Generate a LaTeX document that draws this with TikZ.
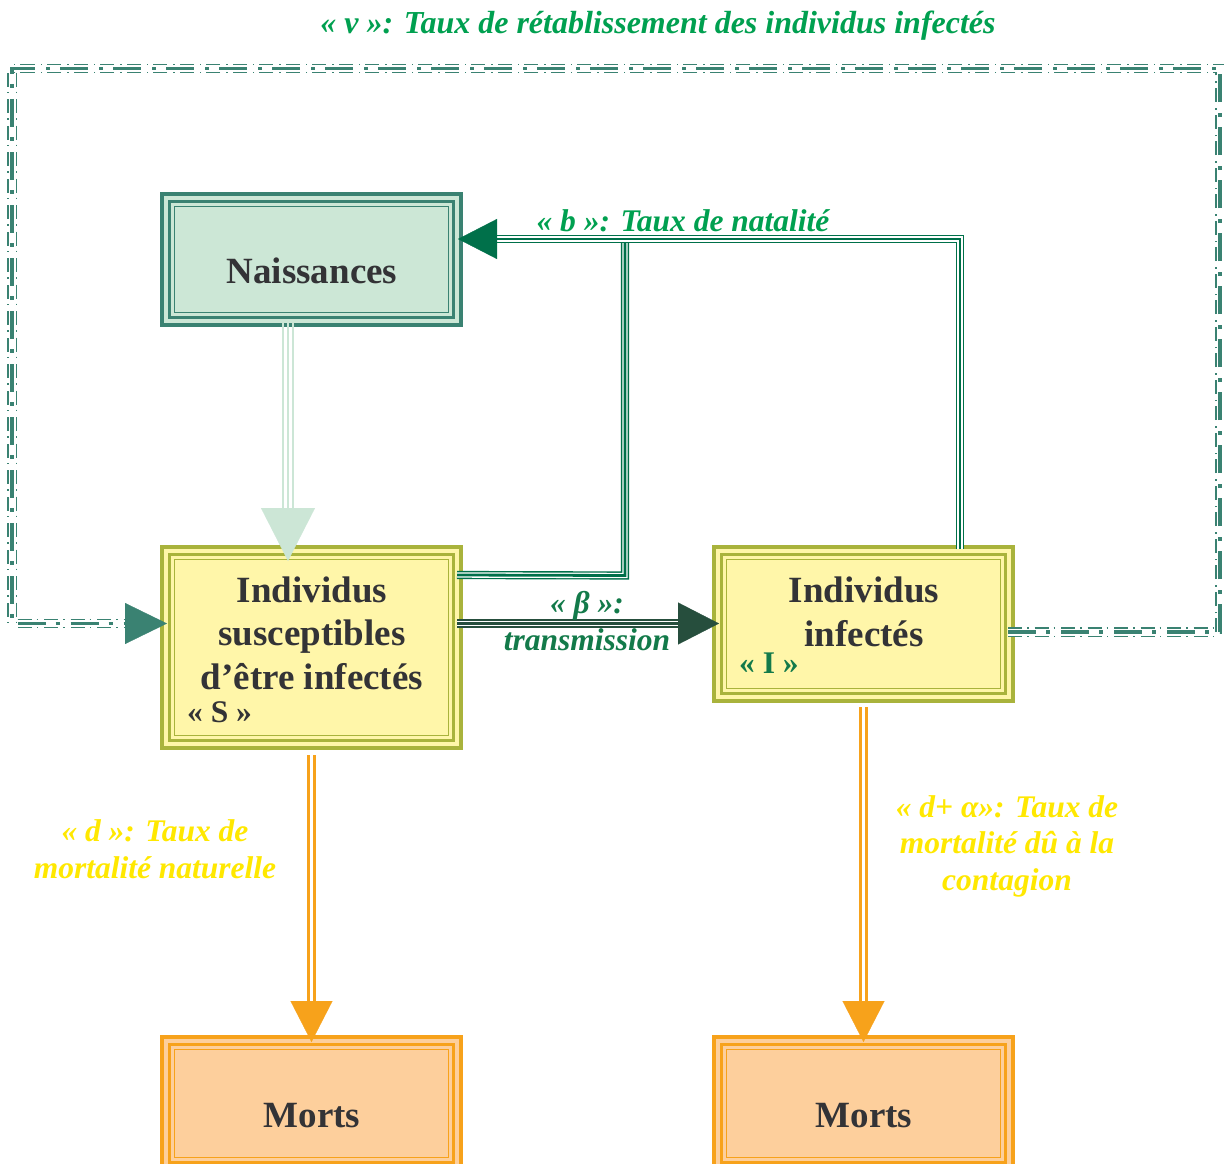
\documentclass[tikz,border=0pt]{standalone}
\usepackage{fontspec}
\setmainfont{Liberation Serif}
\usetikzlibrary{calc,arrows.meta}
\definecolor{tealb}{HTML}{3A8272}
\definecolor{mintf}{HTML}{CCE7D6}
\definecolor{oliveb}{HTML}{A9B33C}
\definecolor{yellowf}{HTML}{FFF6A9}
\definecolor{orangeb}{HTML}{F7A21B}
\definecolor{orangef}{HTML}{FDCF9C}
\definecolor{dkgreen}{HTML}{00704A}
\definecolor{betadark}{HTML}{264E3D}
\definecolor{lblgreen}{HTML}{00A050}
\definecolor{lblgreentwo}{HTML}{137A4A}
\definecolor{lblyellow}{HTML}{FFE800}
\definecolor{txtgray}{HTML}{333336}
\definecolor{arrowmint}{HTML}{CCE6D6}
\newcommand\innerframes[2]{%
  \draw[#2, line width=3pt] ($(#1.north west)+(7.5,7.5)$) rectangle ($(#1.south east)+(-7.5,-7.5)$);
  \draw[#2, line width=1.8pt] ($(#1.north west)+(12.5,12.5)$) rectangle ($(#1.south east)+(-12.5,-12.5)$);}
\begin{document}
\begin{tikzpicture}[x=1pt,y=-1pt,
  tribox/.style={rectangle, inner sep=0pt, outer sep=0pt, line width=4.5pt, minimum width=299pt},
  boxtxt/.style={font=\bfseries\fontsize{37}{43.5}\selectfont, text=txtgray, inner sep=0pt, align=center},
  tagtxt/.style={font=\bfseries\fontsize{31.5}{36}\selectfont, inner sep=0pt},
  lbl/.style={font=\bfseries\itshape\fontsize{31.5}{36.5}\selectfont, inner sep=0pt, align=center},
  dashouter/.style={draw=tealb, line width=1.3pt, double=white, double distance=7pt, dash pattern=on 14pt off 5pt on 1.5pt off 6pt},
  dashcenter/.style={draw=tealb, line width=3.8pt, dash pattern=on 28pt off 10pt on 4pt off 11pt},
  gouter/.style={draw=dkgreen, line width=1.4pt, double=white, double distance=5.4pt},
  gcenter/.style={draw=dkgreen, line width=2.8pt},
  bouter/.style={draw=betadark, line width=1.6pt, double=white, double distance=5pt},
  bcenter/.style={draw=betadark, line width=3pt},
  oline/.style={draw=orangeb, line width=3pt, double=white, double distance=3pt},
  mline/.style={draw=arrowmint, line width=2.5pt}
]
\clip (0,0) rectangle (1224,1164);
\fill[white] (0,0) rectangle (1224,1164);

% boxes
\node[tribox, draw=tealb, fill=mintf, minimum height=131pt] (N) at (311.5,259.5) {};
\innerframes{N}{tealb}
\node[tribox, draw=oliveb, fill=yellowf, minimum height=201pt] (S) at (311.5,647.5) {};
\innerframes{S}{oliveb}
\node[tribox, draw=oliveb, fill=yellowf, minimum height=154pt] (I) at (863.5,624) {};
\innerframes{I}{oliveb}
\node[tribox, draw=orangeb, fill=orangef, minimum height=133pt] (M1) at (311.5,1103.5) {};
\innerframes{M1}{orangeb}
\node[tribox, draw=orangeb, fill=orangef, minimum height=133pt] (M2) at (863.5,1103.5) {};
\innerframes{M2}{orangeb}

% box texts (base anchor = last line baseline)
\node[boxtxt, anchor=base] (Nt) at (312,283) {Naissances};
\node[boxtxt, anchor=base] (St) at (312,689) {Individus\\susceptibles\\d’être infectés};
\node[tagtxt, text=txtgray, anchor=base west] (Stag) at (187,722) {« S »};
\node[boxtxt, anchor=base] (It) at (864,646) {Individus\\infectés};
\node[tagtxt, text=lblgreentwo, anchor=base west] (Itag) at (739,673) {« I »};
\node[boxtxt, anchor=base] (M1t) at (312,1127) {Morts};
\node[boxtxt, anchor=base] (M2t) at (864,1127) {Morts};

% recovery loop (dash-dot)
\coordinate (lpA) at ($(I.east)+(-5,8)$);
\coordinate (lpB) at ($(S.west)+(-37,-24)$);
\coordinate (lpT) at ($(S.west)+(5,-24)$);
\draw[dashouter] (lpA) -- (1220,632) -- (1220,68.5) -- (12,68.5) -- (12,623.5) -- (lpB);
\draw[dashcenter] (lpA) -- (1220,632) -- (1220,68.5) -- (12,68.5) -- (12,623.5) -- (lpB);
\draw[tealb, line width=0.3pt, -{Triangle[length=42pt,width=41pt]}] (lpB) -- (lpT);

% births from S and I
\coordinate (bS) at ($(S.east)+(-4,-72.5)$);
\coordinate (bI) at ($(I.north)+(96.5,2)$);
\coordinate (bBase) at (497,239);
\coordinate (bTip) at ($(N.east)+(-3,-20.5)$);
\draw[gouter] (bS) -- (625,575.5) -- (625,242);
\draw[gcenter] (bS) -- (625,575.5) -- (625,242);
\draw[gouter] (bI) -- (960,239) -- (bBase);
\draw[gcenter] (bI) -- (960,239) -- (bBase);
\draw[dkgreen, line width=0.3pt, -{Triangle[length=39pt,width=40pt]}] (bBase) -- (bTip);

% Naissances -> S
\coordinate (nsA) at ($(N.south)+(-23.5,-2)$);
\coordinate (nsB) at ($(S.north)+(-23.5,-39)$);
\coordinate (nsT) at ($(S.north)+(-23.5,14)$);
\foreach \dx in {-5.2,0,5.2}{\draw[mline] ($(nsA)+(\dx,0)$) -- ($(nsB)+(\dx,2)$);}
\draw[arrowmint, line width=0.3pt, -{Triangle[length=53pt,width=54pt]}] (nsB) -- (nsT);

% transmission S -> I
\coordinate (tA) at ($(S.east)+(-4,-24)$);
\coordinate (tB) at ($(I.west)+(-36,-0.5)$);
\coordinate (tT) at ($(I.west)+(5,-0.5)$);
\draw[bouter] (tA) -- (tB);
\draw[bcenter] (tA) -- (tB);
\draw[betadark, line width=0.3pt, -{Triangle[length=41pt,width=42pt]}] (tB) -- (tT);

% deaths
\coordinate (dSA) at ($(S.south)+(0,7)$);
\coordinate (dSB) at ($(M1.north)+(0,-36)$);
\coordinate (dST) at ($(M1.north)+(0,5)$);
\draw[oline] (dSA) -- ($(dSB)+(0,2)$);
\draw[orangeb, line width=0.3pt, -{Triangle[length=41pt,width=42pt]}] (dSB) -- (dST);
\coordinate (dIA) at ($(I.south)+(0,6)$);
\coordinate (dIB) at ($(M2.north)+(0,-36)$);
\coordinate (dIT) at ($(M2.north)+(0,5)$);
\draw[oline] (dIA) -- ($(dIB)+(0,2)$);
\draw[orangeb, line width=0.3pt, -{Triangle[length=41pt,width=42pt]}] (dIB) -- (dIT);

% labels
\node[lbl, text=lblgreen, anchor=base, font=\bfseries\itshape\fontsize{32}{36}\selectfont] (Lv) at (658,34) {« v »: Taux de rétablissement des individus infectés};
\node[lbl, text=lblgreen, anchor=base] (Lb) at (683,231) {« b »: Taux de natalité};
\node[lbl, text=lblgreentwo, anchor=base] (Lbeta) at (587,650) {« β »:\\transmission};
\node[lbl, text=lblyellow, anchor=base] (Ld) at (155,878) {« d »: Taux de\\mortalité naturelle};
\node[lbl, text=lblyellow, anchor=base] (Lda) at (1007,890) {« d+ α»: Taux de\\mortalité dû à la\\contagion};
\end{tikzpicture}
\end{document}
